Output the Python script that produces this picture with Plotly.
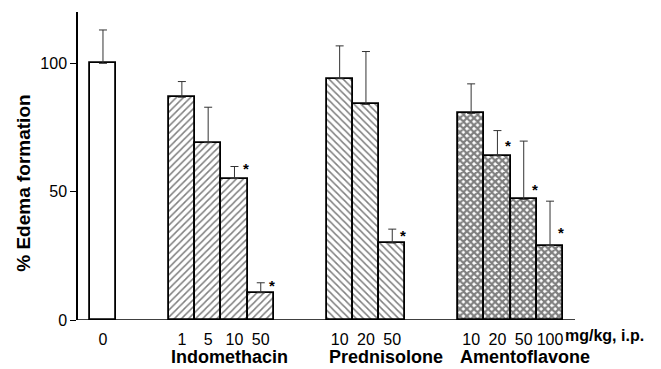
import plotly.graph_objects as go

# ---- data ----
control_x = [1]
control_val = [100]
control_err = [113]

indo_x = [4, 5, 6, 7]
indo_doses = ["1", "5", "10", "50"]
indo_val = [86.8, 69.1, 55.1, 10.6]
indo_err = [92.9, 82.9, 59.8, 14.5]

pred_x = [10, 11, 12]
pred_doses = ["10", "20", "50"]
pred_val = [94.0, 84.0, 30.0]
pred_err = [106.8, 104.6, 35.4]

amen_x = [15, 16, 17, 18]
amen_doses = ["10", "20", "50", "100"]
amen_val = [80.5, 64.0, 47.0, 29.0]
amen_err = [92.0, 73.8, 69.7, 46.3]

star_x = [6, 7, 12, 16, 17, 18]
star_y = [59, 13.5, 33, 68, 51, 34]

group_names = ["Indomethacin", "Prednisolone", "Amentoflavone"]
group_start = [indo_x[0], pred_x[0], amen_x[0]]

FONT = "Liberation Sans, Arial, Helvetica, sans-serif"

fig = go.Figure()

def add_bars(xs, vals, errs, shape, size, solidity):
    fig.add_trace(go.Bar(
        x=xs, y=vals, width=1,
        marker=dict(color="white",
                    line=dict(color="black", width=1.8),
                    pattern=dict(shape=shape, size=size, solidity=solidity,
                                 fgcolor="black", bgcolor="white")),
        error_y=dict(type="data", symmetric=False,
                     array=[e - v for e, v in zip(errs, vals)],
                     arrayminus=[0] * len(vals),
                     color="#333333", thickness=1, width=4),
        showlegend=False,
    ))

add_bars(control_x, control_val, control_err, "", 6, 0.2)
add_bars(indo_x, indo_val, indo_err, "/", 5, 0.3)
add_bars(pred_x, pred_val, pred_err, "\\", 5, 0.3)
add_bars(amen_x, amen_val, amen_err, "x", 5, 0.7)

# x baseline
fig.add_shape(type="line", x0=0.05, x1=amen_x[-1] + 0.95, y0=0, y1=0,
              xref="x", yref="y", line=dict(color="black", width=1.5))

# asterisks
for sx, sy in zip(star_x, star_y):
    fig.add_annotation(x=sx + 0.42, y=sy, text="<b>*</b>", showarrow=False,
                       xref="x", yref="y", font=dict(size=15, family=FONT, color="black"))

# group labels
for name, gs in zip(group_names, group_start):
    fig.add_annotation(x=gs - 0.5, y=-0.12, xref="x", yref="paper",
                       text="<b>" + name + "</b>", showarrow=False,
                       xanchor="left", yanchor="middle",
                       font=dict(size=18, family=FONT, color="black"))

fig.add_annotation(x=amen_x[-1] + 0.5, y=-0.05, xref="x", yref="paper",
                   text="<b>mg/kg, i.p.</b>", showarrow=False,
                   xanchor="left", yanchor="middle",
                   font=dict(size=16, family=FONT, color="black"))

# y title
fig.add_annotation(x=-0.094, y=0.443, xref="paper", yref="paper",
                   text="<b>% Edema formation</b>", textangle=-90, showarrow=False,
                   xanchor="center", yanchor="middle",
                   font=dict(size=19, family=FONT, color="black"))

tickvals = control_x + indo_x + pred_x + amen_x
ticktext = ["0"] + indo_doses + pred_doses + amen_doses

fig.update_layout(
    width=661, height=369,
    margin=dict(l=78, r=0, t=12, b=49),
    paper_bgcolor="white", plot_bgcolor="white",
    bargap=0,
    xaxis=dict(range=[0.05, 22.22], tickvals=tickvals, ticktext=ticktext,
               ticks="outside", ticklen=5, tickcolor="rgba(0,0,0,0)",
               showgrid=False, zeroline=False, showline=False,
               tickfont=dict(size=16, family=FONT, color="black")),
    yaxis=dict(range=[0, 120], tickvals=[0, 50, 100], ticks="outside", ticklen=6,
               tickcolor="black", showline=True, linecolor="black", linewidth=1.5,
               showgrid=False, zeroline=False,
               tickfont=dict(size=16, family=FONT, color="black")),
)

fig.write_html("out.html")
